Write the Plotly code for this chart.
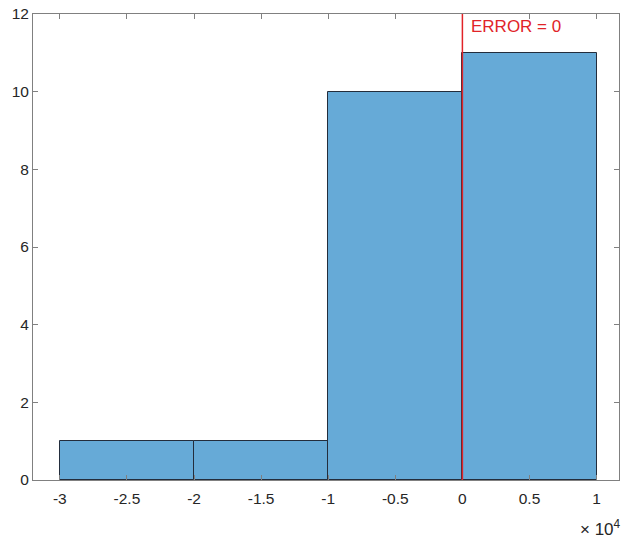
import plotly.graph_objects as go

bin_edges = [-30000, -20000, -10000, 0, 10000]
counts = [1, 1, 10, 11]
x_ticks = [-30000, -25000, -20000, -15000, -10000, -5000, 0, 5000, 10000]
x_tick_labels = ["-3", "-2.5", "-2", "-1.5", "-1", "-0.5", "0", "0.5", "1"]
y_ticks = [0, 2, 4, 6, 8, 10, 12]
error_value = 0

centers = [(a + b) / 2 for a, b in zip(bin_edges[:-1], bin_edges[1:])]
widths = [b - a for a, b in zip(bin_edges[:-1], bin_edges[1:])]

axis_color = "rgb(128,128,128)"
font = dict(family="Liberation Sans, Arial, sans-serif", size=15.5, color="rgb(38,38,38)")

fig = go.Figure()
fig.add_trace(go.Bar(
    x=centers, y=counts, width=widths,
    marker=dict(color="rgb(102,170,215)", line=dict(color="rgb(35,45,60)", width=1)),
    showlegend=False,
))

fig.add_shape(type="line", x0=error_value, x1=error_value, y0=0, y1=1,
              xref="x", yref="paper", line=dict(color="rgb(225,35,40)", width=1.5))
fig.add_annotation(x=error_value, y=12, xref="x", yref="y", text="ERROR = 0",
                   showarrow=False, xanchor="left", yanchor="top", xshift=7, yshift=-1,
                   font=dict(family="Liberation Sans, Arial, sans-serif", size=17, color="rgb(225,35,40)"))
fig.add_annotation(x=1, y=0, xref="paper", yref="paper",
                   text="× 10<sup>4</sup>",
                   showarrow=False, xanchor="right", yanchor="top", yshift=-35, xshift=4,
                   font=dict(family="Liberation Sans, Arial, sans-serif", size=17, color="rgb(38,38,38)"))

fig.update_layout(
    width=624, height=542,
    margin=dict(l=33, r=5, t=14, b=62),
    plot_bgcolor="white", paper_bgcolor="white",
    font=font,
    bargap=0,
)
fig.update_xaxes(range=[-32000, 11670], tickvals=x_ticks, ticktext=x_tick_labels,
                 showgrid=False, zeroline=False, showline=True, linecolor=axis_color, linewidth=1,
                 mirror="ticks", ticks="inside", ticklen=5, tickcolor=axis_color, tickfont=font,
                 ticklabelstandoff=4)
fig.update_yaxes(range=[0, 12], tickvals=y_ticks, showgrid=False, zeroline=False,
                 showline=True, linecolor=axis_color, linewidth=1,
                 mirror="ticks", ticks="inside", ticklen=5, tickcolor=axis_color, tickfont=font)

fig.write_html("out.html")
